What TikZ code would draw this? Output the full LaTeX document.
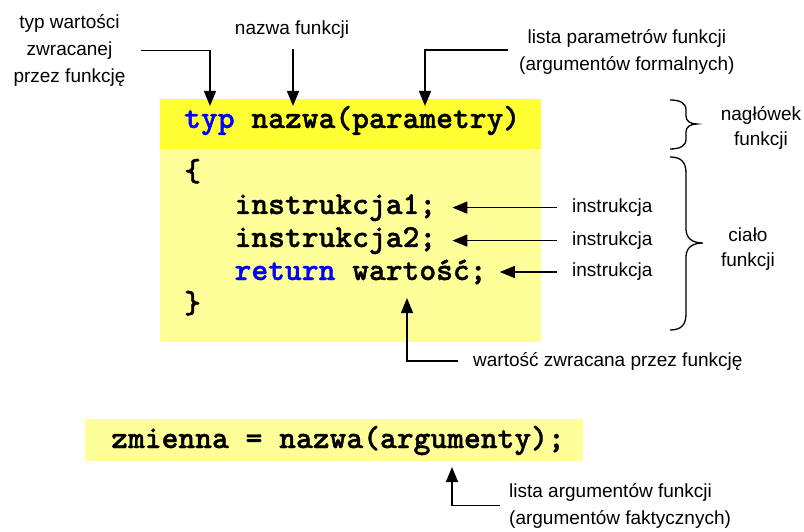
\documentclass[tikz,border=0pt]{standalone}
\usepackage{fontspec}
\setmainfont{Liberation Sans}
\newfontfamily\codefont{lmmonolt10-bold.otf}[FakeBold=1.2]
\usepackage{tikz}
\usetikzlibrary{arrows.meta, positioning, calc}
\usepackage{xcolor}
\definecolor{hdryellow}{RGB}{255,255,51}
\definecolor{bodyyellow}{RGB}{255,255,153}
\definecolor{kwblue}{RGB}{0,0,255}

\begin{document}
\begin{tikzpicture}[x=1pt, y=-1pt,
    code/.style={anchor=base west, inner sep=0pt, font=\fontsize{32}{33}\selectfont\codefont},
    lbl/.style={inner sep=0pt, align=center, font=\fontsize{19}{27}\selectfont},
    arr/.style={line width=1.5pt, -{Triangle[length=15pt, width=12pt]}},
    brc/.style={line width=1.3pt}]
    \useasboundingbox (0,0) rectangle (804,532);
    \node[rectangle, fill=hdryellow, minimum width=381pt, minimum height=50pt, inner sep=0pt] (hdr) at (350.5,124) {};
    \node[rectangle, fill=bodyyellow, minimum width=381pt, minimum height=193pt, inner sep=0pt] (body) at (350.5,245.5) {};
    \node[rectangle, fill=bodyyellow, minimum width=498pt, minimum height=42pt, inner sep=0pt] (call) at (334,440) {};

    \node[code] (sig) at (184,128) {\textcolor{kwblue}{typ} nazwa(parametry)};
    \node[code] (lbr) at (184,181) {\{};
    \node[code] (l1) at (234.4,214) {instrukcja1;};
    \node[code] (l2) at (234.4,247) {instrukcja2;};
    \node[code] (l3) at (234.4,280) {\textcolor{kwblue}{return} wartość;};
    \node[code] (rbr) at (184,313) {\}};
    \node[code] (stmt) at (111,448) {zmienna = nazwa(argumenty);};

    \node[lbl] (lblTyp) at (69.5,50.5) {typ wartości\\zwracanej\\przez funkcję};
    \node[lbl] (lblName) at (292,30) {nazwa funkcji};
    \node[lbl, anchor=west] (lblParam) at (519,52) {lista parametrów funkcji\\(argumentów formalnych)};
    \node[lbl, font=\fontsize{19}{25}\selectfont] (lblHead) at (761,127.5) {nagłówek\\funkcji};
    \node[lbl, font=\fontsize{19}{25}\selectfont] (lblBody) at (748,249.5) {ciało\\funkcji};
    \coordinate (ix) at (572,0);
    \node[lbl, anchor=west] (i1) at (l1.east -| ix) {instrukcja};
    \node[lbl, anchor=west] (i2) at (l2.east -| ix) {instrukcja};
    \node[lbl, anchor=west] (i3) at (l3.east -| ix) {instrukcja};
    \node[lbl, anchor=west] (lblRet) at (473,361) {wartość zwracana przez funkcję};
    \node[lbl, anchor=west, align=left] (lblArgs) at (509,505.5) {lista argumentów funkcji\\(argumentów faktycznych)};

    \coordinate (tTyp) at (210,106);
    \coordinate (tName) at (293,106);
    \coordinate (tPar) at (425,106);
    \coordinate (tRet) at (407,298);
    \coordinate (tArg) at (452,467);
    \draw[arr] ([xshift=15pt]lblTyp.east) -| (tTyp);
    \draw[arr] (tName |- lblName.south) ++(0,10) -- (tName);
    \draw[arr] ([xshift=-11pt, yshift=2pt]lblParam.west) -| (tPar);
    \draw[arr] ([xshift=-15pt]i1.west) -- ([xshift=16pt]l1.east);
    \draw[arr] ([xshift=-15pt]i2.west) -- ([xshift=16pt]l2.east);
    \draw[arr] ([xshift=-15pt]i3.west) -- ([xshift=13pt]l3.east);
    \draw[arr] ([xshift=-15pt]lblRet.west) -| (tRet);
    \draw[arr] ([xshift=-9pt]lblArgs.west) -| (tArg);

    \draw[brc] (670,100) .. controls (680,100) and (686,103) .. (686,110) -- (686,116)
        .. controls (686,121) and (690,124) .. (697,124) .. controls (690,124) and (686,127) .. (686,132)
        -- (686,139) .. controls (686,146) and (680,149) .. (670,149);
    \draw[brc] (670,157) .. controls (681,157) and (686,162) .. (686,173) -- (686,229)
        .. controls (686,238) and (692,243) .. (703,243) .. controls (692,243) and (686,248) .. (686,257)
        -- (686,314) .. controls (686,325) and (681,330) .. (670,330);
\end{tikzpicture}
\end{document}
